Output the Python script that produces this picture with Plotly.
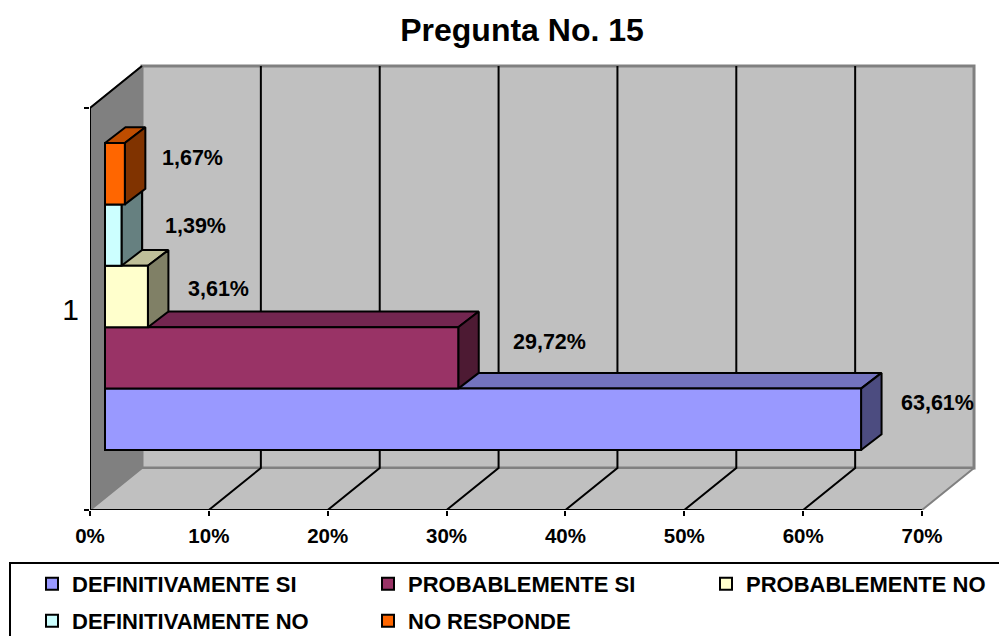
"""Pregunta No. 15: barras 3D falsas (caras laterales calculadas desde los valores)."""

import plotly.graph_objects as go

categories = ["DEFINITIVAMENTE SI", "PROBABLEMENTE SI", "PROBABLEMENTE NO", "DEFINITIVAMENTE NO", "NO RESPONDE"]
values = [63.61, 29.72, 3.61, 1.39, 1.67]
x_ticks = [0, 10, 20, 30, 40, 50, 60, 70]
y_tick_labels = ["1"]

front_colors = ["#9999FF", "#993366", "#FFFFCC", "#CCFFFF", "#FF6600"]
top_colors = ["#7373BF", "#732650", "#BFBF99", "#99BFBF", "#BF4D00"]
side_colors = ["#4C4C80", "#4D1A33", "#808066", "#668080", "#803300"]

# offsets of each data label from the bar end, px
label_dx = [76, 91, 71, 74, 68]
label_dy = [16, 16, 8, 9, 16]

# legend anchor (left, centre) px
legend_px = [(32, 584), (368, 584), (706, 584), (32, 621), (368, 621)]

W, H = 1007, 636
PAGE = 8  # the page's body margin
L, T, B = 90, 40, 510
PX_X = 11.886  # px per 1 %
PX_Y = 402.0  # px per category unit
BARGAP = 0.2363
FONT = "Liberation Sans, Arial, sans-serif"

wall_dx, wall_dy = 52 / PX_X, 42 / PX_Y
bar_dx, bar_dy = 20.5 / PX_X, 15.7 / PX_Y
x_max = x_ticks[-1]

fig = go.Figure()


def poly(xs, ys, fill=None, line="#000000", width=2, xa="x", ya="y"):
    fig.add_trace(
        go.Scatter(
            x=xs, y=ys, mode="lines", xaxis=xa, yaxis=ya,
            fill="toself" if fill else None, fillcolor=fill,
            line=dict(color=line, width=width),
            cliponaxis=False, showlegend=False, hoverinfo="skip",
        )
    )


# walls
poly([0, wall_dx, wall_dx, 0, 0], [-0.5, -0.5 + wall_dy, 0.5 + wall_dy, 0.5, -0.5], fill="#808080", line="#808080")
poly(
    [wall_dx, x_max + wall_dx, x_max + wall_dx, wall_dx, wall_dx],
    [-0.5 + wall_dy, -0.5 + wall_dy, 0.5 + wall_dy, 0.5 + wall_dy, -0.5 + wall_dy],
    fill="#C0C0C0", line="#808080", width=3,
)
poly([0, x_max, x_max + wall_dx, wall_dx, 0], [-0.5, -0.5, -0.5 + wall_dy, -0.5 + wall_dy, -0.5], fill="#C0C0C0", line="#808080")
for v in x_ticks[1:-1]:
    poly([v, v + wall_dx, v + wall_dx], [-0.5, -0.5 + wall_dy, 0.5 + wall_dy])
poly([0, x_max], [-0.5, -0.5])
poly([0, 0, wall_dx], [-0.5, 0.5, 0.5 + wall_dy])

# top and side faces, under the real bars
h = (1 - BARGAP) / len(values)
for i, v in enumerate(values):
    lo = -0.5 + BARGAP / 2 + i * h
    hi = lo + h
    poly([0, v, v + bar_dx, bar_dx, 0], [hi, hi, hi + bar_dy, hi + bar_dy, hi], fill=top_colors[i], xa="x2", ya="y2")
    poly([v, v + bar_dx, v + bar_dx, v, v], [lo, lo + bar_dy, hi + bar_dy, hi, lo], fill=side_colors[i], xa="x2", ya="y2")

for i, (name, v) in enumerate(zip(categories, values)):
    fig.add_trace(
        go.Bar(
            name=name, x=[v], y=[0], orientation="h", xaxis="x3", yaxis="y3",
            marker=dict(color=front_colors[i], line=dict(color="#000000", width=2)),
            legend="legend" if i == 0 else f"legend{i + 1}",
            hoverinfo="skip",
        )
    )

for i, v in enumerate(values):
    lo = -0.5 + BARGAP / 2 + i * h
    fig.add_annotation(
        x=v, y=lo + h / 2, xref="x3", yref="y3", text=f"{v:.2f}%".replace(".", ","),
        showarrow=False, xshift=label_dx[i], yshift=label_dy[i],
        font=dict(family=FONT, size=21.5, color="#000000", weight="bold"),
    )

x_range = [0, (W - L) / PX_X]
bar_x_range = [-15 / PX_X, (W - L - 15) / PX_X]
bar_y_range = [(296.5 - B) / PX_Y, (296.5 - T) / PX_Y]

layout = dict(
    width=W - PAGE, height=H - PAGE,
    autosize=False,
    margin=dict(l=L - PAGE, r=0, t=T - PAGE, b=H - B, autoexpand=False),
    paper_bgcolor="#FFFFFF", plot_bgcolor="rgba(0,0,0,0)",
    barmode="group", bargap=BARGAP, bargroupgap=0,
    title=dict(
        text="Pregunta No. 15", x=(522 - PAGE) / (W - PAGE), y=1 - (30 - PAGE) / (H - PAGE),
        xanchor="center", yanchor="middle",
        font=dict(family=FONT, size=32, color="#000000", weight="bold"),
    ),
    xaxis=dict(
        range=x_range, tickvals=x_ticks, ticktext=[f"{t}%" for t in x_ticks],
        ticks="outside", ticklen=5, tickwidth=2, tickcolor="#000000",
        ticklabelstandoff=2,
        showgrid=False, zeroline=False, showline=False,
        tickfont=dict(family=FONT, size=20.5, color="#000000", weight="bold"),
    ),
    yaxis=dict(
        range=[-0.5, (309 - T) / PX_Y], tickvals=[0], ticktext=y_tick_labels, ticks="",
        minor=dict(tickvals=[-0.5, 0.5], ticks="outside", ticklen=5, tickwidth=2, tickcolor="#000000"),
        ticklabelstandoff=10,
        showgrid=False, zeroline=False, showline=False,
        tickfont=dict(family=FONT, size=30, color="#000000"),
    ),
    xaxis2=dict(range=bar_x_range, overlaying="x", anchor="y2", visible=False),
    yaxis2=dict(range=bar_y_range, overlaying="y", anchor="x2", visible=False),
    xaxis3=dict(range=bar_x_range, overlaying="x", anchor="y3", visible=False),
    yaxis3=dict(range=bar_y_range, overlaying="y", anchor="x3", visible=False),
    shapes=[
        dict(
            type="rect", xref="paper", yref="paper", layer="below",
            x0=(10 - L) / (W - L), x1=(1020 - L) / (W - L),
            y0=(B - 640) / (B - T), y1=(B - 563) / (B - T),
            line=dict(color="#000000", width=2), fillcolor="#FFFFFF",
        )
    ],
)
for i, (px, py) in enumerate(legend_px):
    key = "legend" if i == 0 else f"legend{i + 1}"
    layout[key] = dict(
        x=(px - L) / (W - L), y=(B - py) / (B - T), xanchor="left", yanchor="middle",
        bgcolor="rgba(0,0,0,0)", borderwidth=0,
        font=dict(family=FONT, size=22, color="#000000", weight="bold"),
    )
fig.update_layout(**layout)

fig.write_html("out.html")
